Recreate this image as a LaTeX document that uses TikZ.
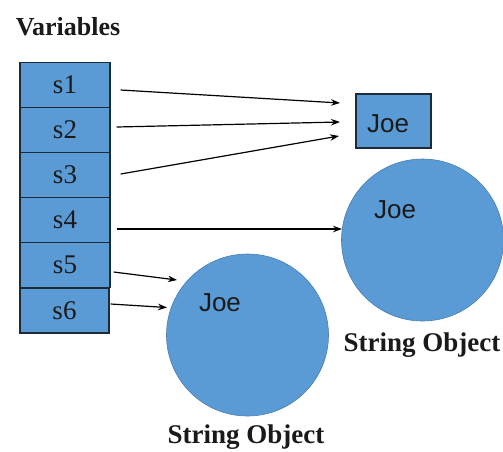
\documentclass[tikz,border=0pt]{standalone}
\usepackage{fontspec}
\setmainfont{Liberation Serif}
\newfontfamily\arialfont{Liberation Sans}
\usetikzlibrary{arrows.meta}
\definecolor{cellblue}{HTML}{5B9BD5}
\definecolor{cellline}{HTML}{1E2A38}
\definecolor{ringline}{HTML}{4A7DB3}
\definecolor{inktext}{HTML}{1A1A1A}
\begin{document}
\begin{tikzpicture}[x=1pt,y=-1pt,
  varcell/.style={draw=cellline,line width=1.4pt,fill=cellblue,minimum width=90pt,minimum height=45pt,inner sep=0pt,
    font=\fontsize{27}{30}\selectfont,text=inktext},
  strbox/.style={draw=cellline,line width=1.4pt,fill=cellblue,minimum width=75pt,minimum height=54pt,inner sep=0pt},
  strobj/.style={circle,draw=ringline,line width=0.6pt,fill=cellblue,minimum size=162pt,inner sep=0pt},
  joetext/.style={font=\arialfont\fontsize{26}{30}\selectfont,text=inktext,inner sep=0pt},
  caption/.style={font=\bfseries\fontsize{27}{30}\selectfont,text=inktext,inner sep=0pt},
  ptr/.style={draw=black,line width=1.2pt,-{Stealth[length=9pt,width=6.5pt]}}]
\useasboundingbox (0,0) rectangle (503,451);

% variable table
\node[caption,font=\bfseries\fontsize{26}{30}\selectfont] (title) at (68,27) {Variables};
\node[varcell] (s1) at (65,85)  {s1};
\node[varcell] (s2) at (65,130) {s2};
\node[varcell] (s3) at (65,175) {s3};
\node[varcell] (s4) at (65,220) {s4};
\node[varcell] (s5) at (65,265) {s5};
\node[varcell,minimum width=89pt] (s6) at (64.5,310.5) {s6};

% pooled literal and heap objects
\node[strbox] (pool) at (393.5,121) {};
\node[joetext] (pooljoe) at (388,124) {Joe};
\node[strobj] (objA) at (422.5,240) {};
\node[joetext] (joeA) at (395,210) {Joe};
\node[caption] (capA) at (422,345) {String Object};
\node[strobj] (objB) at (247.5,335) {};
\node[joetext] (joeB) at (220,303) {Joe};
\node[caption] (capB) at (246,437) {String Object};

% arrow end points
\coordinate (t1) at (340,103);
\coordinate (t2) at (340,122);
\coordinate (t3) at (339,136);
\coordinate (t4) at (342,229);
\coordinate (t5) at (177,280);
\coordinate (t6) at (167,307.5);

% references
\draw[ptr] ([xshift=10pt,yshift=-5pt]s1.east) -- (t1);
\draw[ptr] ([xshift=6pt,yshift=3pt]s2.east) -- (t2);
\draw[ptr] ([xshift=10pt,yshift=1pt]s3.east) -- (t3);
\draw[ptr] ([xshift=6pt,yshift=-9pt]s4.east) -- (t4);
\draw[ptr] ([xshift=3pt,yshift=-7pt]s5.east) -- (t5);
\draw[ptr] ([xshift=1pt,yshift=6.5pt]s6.east) -- (t6);
\end{tikzpicture}
\end{document}
